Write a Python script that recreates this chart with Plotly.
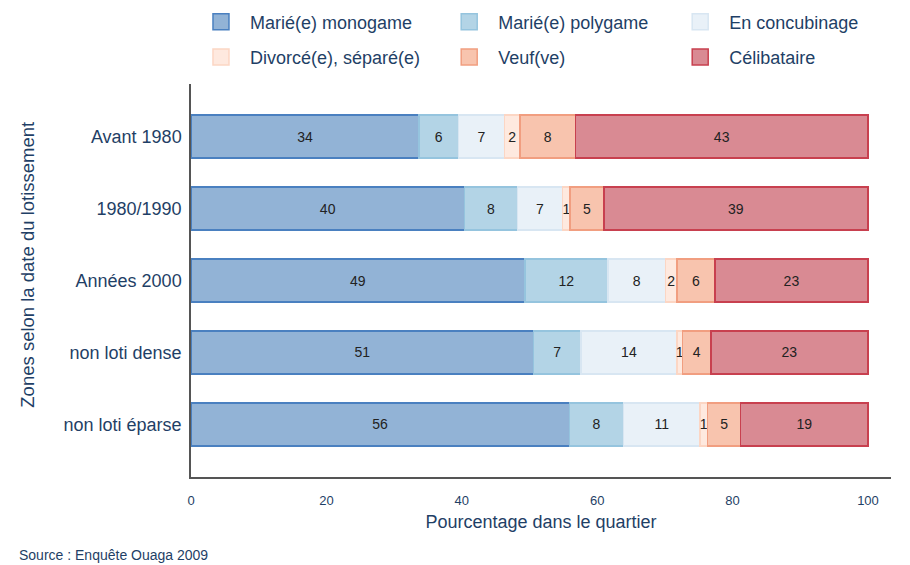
import plotly.graph_objects as go

categories = ["Avant 1980", "1980/1990", "Années 2000", "non loti dense", "non loti éparse"]

series_names = ["Marié(e) monogame", "Marié(e) polygame", "En concubinage",
                "Divorcé(e), séparé(e)", "Veuf(ve)", "Célibataire"]

monogame = [33.7, 40.4, 49.3, 50.6, 55.9]
polygame = [5.8, 7.8, 12.3, 7.0, 8.0]
concubinage = [6.8, 6.7, 8.5, 14.2, 11.3]
divorce = [2.3, 1.1, 1.7, 0.8, 1.1]
veuf = [8.2, 5.0, 5.6, 4.2, 4.9]
celibataire = [43.2, 39.0, 22.6, 23.2, 18.8]

values = [monogame, polygame, concubinage, divorce, veuf, celibataire]

fills = ["#92b3d6", "#b3d4e6", "#e9f1f8", "#fee9df", "#f8c4ae", "#d98a93"]
lines = ["#4a80c0", "#95c4de", "#d8e6f2", "#fcd6c4", "#f19e80", "#c8404f"]
legend_ids = ["legend", "legend2", "legend3", "legend", "legend2", "legend3"]

navy = "#1f3f66"
font_family = "Liberation Sans, Arial, Helvetica, sans-serif"

fig = go.Figure()
for name, vals, fc, lc in zip(series_names, values, fills, lines):
    fig.add_trace(go.Bar(
        y=categories, x=vals, name=name, orientation="h",
        marker=dict(color=fc, line=dict(color=lc, width=1.5)),
        text=[f"{round(v)}" for v in vals],
        textposition="inside", insidetextanchor="middle", textangle=0,
        textfont=dict(size=14, color="#222222", family=font_family),
        showlegend=False, hoverinfo="x+y+name",
    ))

for name, fc, lc, lg in zip(series_names, fills, lines, legend_ids):
    fig.add_trace(go.Scatter(
        x=[None], y=[None], mode="markers", name=name,
        marker=dict(symbol="square", size=16, color=fc, line=dict(color=lc, width=1.5)),
        legend=lg, legendgroup=name, showlegend=True,
    ))

leg_common = dict(
    orientation="v", yanchor="top", y=1.205, xanchor="left",
    font=dict(size=18, color=navy, family=font_family),
    bgcolor="rgba(0,0,0,0)", itemwidth=48, traceorder="grouped",
    tracegroupgap=9, itemclick=False, itemdoubleclick=False,
)

# page body has an 8px margin; figure sized to fill the rest of the window
fig.update_layout(
    width=902, height=557,
    margin=dict(l=183, r=19, t=76, b=88, autoexpand=False),
    plot_bgcolor="white", paper_bgcolor="white",
    barmode="stack", bargap=0.4,
    font=dict(family=font_family, color=navy),
    uniformtext=dict(minsize=14, mode="show"),
    legend=dict(x=0.0014, **leg_common),
    legend2=dict(x=0.356, **leg_common),
    legend3=dict(x=0.686, **leg_common),
    xaxis=dict(
        range=[0, 103.4], tickvals=[0, 20, 40, 60, 80, 100],
        showgrid=False, zeroline=False,
        showline=True, linecolor="#555555", linewidth=1.5,
        ticks="outside", ticklen=11, tickcolor="rgba(0,0,0,0)",
        tickfont=dict(size=13, color=navy),
        title=dict(text="Pourcentage dans le quartier", font=dict(size=18, color=navy), standoff=8),
    ),
    yaxis=dict(
        type="category", categoryorder="array", categoryarray=categories,
        range=[4.73, -0.73],
        showgrid=False, zeroline=False,
        showline=True, linecolor="#555555", linewidth=1.5,
        ticks="outside", ticklen=4, tickcolor="rgba(0,0,0,0)",
        tickfont=dict(size=18, color=navy),
    ),
    annotations=[
        dict(text="Zones selon la date du lotissement", textangle=-90,
             xref="paper", yref="paper", x=-0.233, y=0.54, xanchor="center", yanchor="middle",
             showarrow=False, font=dict(size=18.5, color=navy)),
        dict(text="Source : Enquête Ouaga 2009",
             xref="paper", yref="paper", x=-0.248, y=-0.198, xanchor="left", yanchor="middle",
             showarrow=False, font=dict(size=14, color=navy)),
    ],
)

fig.write_html("out.html")
